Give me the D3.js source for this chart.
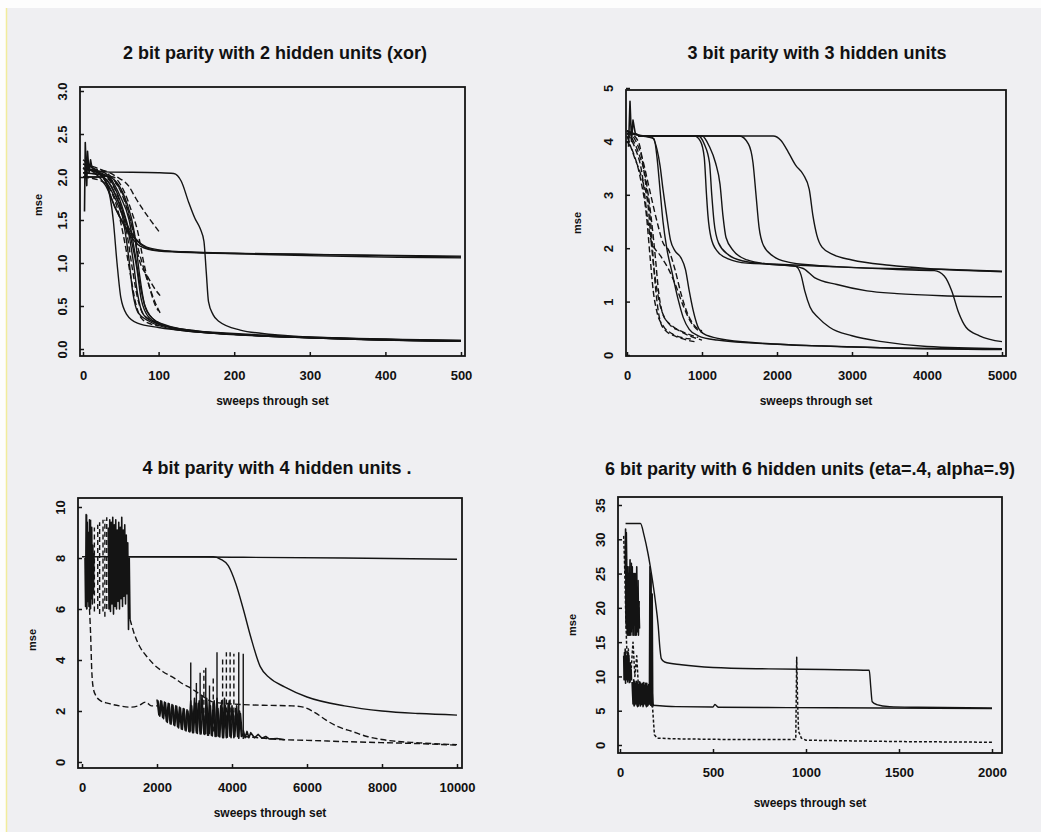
<!DOCTYPE html>
<html>
<head>
<meta charset="utf-8">
<script src="https://cdn.jsdelivr.net/npm/d3@7"></script>
<style>
  html, body { margin: 0; padding: 0; background: #fff; }
  svg { display: block; }
  text { font-family: "Liberation Sans", Arial, sans-serif; font-weight: bold; fill: #111; }
</style>
</head>
<body>
<svg id="chart" width="1041" height="832"></svg>
<script>
// ---------- titles and ticks ----------
const titles = [
    '2 bit parity with 2 hidden units (xor)',
    '3 bit parity with 3 hidden units',
    '4 bit parity with 4 hidden units  .',
    '6 bit parity with 6 hidden units (eta=.4, alpha=.9)'
];
const xLabel = 'sweeps through set';
const yLabel = 'mse';

const xTicks1 = [0, 100, 200, 300, 400, 500];
const yTicks1 = [0, 0.5, 1, 1.5, 2, 2.5, 3];
const xTicks2 = [0, 1000, 2000, 3000, 4000, 5000];
const yTicks2 = [0, 1, 2, 3, 4, 5];
const xTicks3 = [0, 2000, 4000, 6000, 8000, 10000];
const yTicks3 = [0, 2, 4, 6, 8, 10];
const xTicks4 = [0, 500, 1000, 1500, 2000];
const yTicks4 = [0, 5, 10, 15, 20, 25, 30, 35];

// ---------- panel 1: 2 bit parity ----------
const p1Solid = [
    [[0,2.1],[10,2.08],[30,2.06],[100,2.05],[120,2.04],[130,1.95],[140,1.7],[148,1.52],[155,1.4],[160,1.25],[163,0.9],[166,0.55],[172,0.4],[180,0.32],[208,0.22],[250,0.17],[300,0.14],[400,0.11],[500,0.09]],
    [[0,2.1],[15,2.05],[30,1.9],[45,1.6],[60,1.35],[75,1.2],[100,1.14],[150,1.12],[300,1.1],[500,1.08]],
    [[0,2.15],[20,2.06],[40,1.8],[55,1.5],[70,1.28],[90,1.17],[130,1.13],[300,1.1],[500,1.07]],
    [[5,2.0],[25,2.0],[42,1.65],[58,1.4],[72,1.25],[95,1.15],[200,1.11],[500,1.06]],
    [[0,2.1],[20,2.05],[32,1.9],[40,1.5],[45,1.0],[50,0.6],[58,0.4],[72,0.3],[100,0.25],[150,0.2],[250,0.15],[500,0.1]],
    [[0,2.2],[20,2.05],[40,1.85],[52,1.55],[60,1.1],[66,0.65],[73,0.42],[88,0.32],[120,0.23],[200,0.17],[500,0.09]],
    [[0,2.0],[25,2.0],[45,1.75],[58,1.45],[66,1.05],[72,0.65],[80,0.4],[97,0.3],[150,0.21],[300,0.13],[500,0.09]],
    [[0,2.1],[30,2.02],[52,1.65],[63,1.3],[71,0.95],[77,0.58],[87,0.37],[110,0.26],[200,0.17],[500,0.09]],
    [[0,2.05],[35,2.0],[57,1.72],[68,1.35],[75,0.85],[82,0.5],[97,0.32],[140,0.21],[300,0.13],[500,0.09]],
    [[0,2.1],[28,2.05],[49,1.78],[61,1.5],[69,1.1],[76,0.72],[85,0.43],[102,0.3],[160,0.2],[500,0.1]]
];
const p1Dashed = [
    [[0,2.1],[25,2.08],[45,2.0],[60,1.9],[70,1.75],[85,1.55],[102,1.35]],
    [[0,2.1],[30,2.0],[50,1.85],[60,1.6],[68,1.3],[75,1.02],[85,0.85],[95,0.7],[102,0.62]],
    [[0,2.15],[35,2.02],[55,1.72],[65,1.42],[75,1.1],[85,0.8],[95,0.55],[102,0.42]],
    [[0,2.0],[25,1.95],[45,1.65],[55,1.25],[63,0.85],[70,0.52],[78,0.35],[90,0.29],[100,0.27]],
    [[0,2.1],[30,2.0],[48,1.72],[58,1.35],[65,0.95],[72,0.6],[82,0.38],[100,0.31]],
    [[0,2.05],[40,2.0],[55,1.82],[65,1.58],[72,1.38],[80,1.02],[88,0.72],[95,0.52],[100,0.44]]
];
const p1Noise = [
    [[2,1.6],[3,2.4],[5,1.9],[6,2.3],[8,2.05],[10,2.2],[12,2.1]]
];

// ---------- panel 2: 3 bit parity ----------
const p2Solid = [
    [[0,4.2],[150,4.12],[330,4.08],[400,3.85],[440,3.55],[480,3.1],[530,2.6],[580,2.15],[640,1.95],[720,1.82],[780,1.6],[830,1.2],[880,0.85],[940,0.55],[1020,0.4],[1250,0.3],[1800,0.22],[2600,0.17],[3500,0.13],[5000,0.1]],
    [[0,4.15],[200,4.1],[360,4.05],[400,3.7],[440,3.1],[480,2.5],[530,2.0],[600,1.55],[680,1.05],[750,0.7],[830,0.48],[950,0.36],[1200,0.28],[2000,0.2],[3000,0.15],[5000,0.11]],
    [[150,4.1],[900,4.1],[980,4.0],[1030,3.7],[1060,3.0],[1080,2.6],[1120,2.2],[1200,1.95],[1350,1.8],[1600,1.72],[2000,1.7],[2600,1.66],[3500,1.62],[4300,1.6],[5000,1.57]],
    [[150,4.1],[950,4.1],[1030,3.95],[1100,3.6],[1130,3.0],[1160,2.5],[1220,2.1],[1350,1.88],[1550,1.76],[1900,1.7],[2250,1.66],[2320,1.5],[2370,1.2],[2440,0.9],[2550,0.7],[2700,0.52],[3000,0.36],[3400,0.25],[4000,0.16],[5000,0.12]],
    [[150,4.1],[1000,4.1],[1100,3.9],[1180,3.6],[1240,3.2],[1280,2.6],[1320,2.2],[1420,1.95],[1600,1.78],[1900,1.7],[2150,1.68],[2350,1.62],[2500,1.45],[2800,1.32],[3200,1.2],[3600,1.15],[4200,1.11],[5000,1.09]],
    [[150,4.1],[1500,4.1],[1620,3.95],[1680,3.6],[1720,3.0],[1760,2.4],[1820,2.05],[1950,1.85],[2150,1.74],[2500,1.68],[3000,1.64],[3600,1.6],[4100,1.58],[4230,1.48],[4330,1.2],[4420,0.8],[4520,0.52],[4700,0.36],[5000,0.25]],
    [[150,4.1],[1950,4.1],[2050,4.02],[2150,3.8],[2250,3.55],[2350,3.38],[2430,3.1],[2480,2.6],[2530,2.25],[2600,2.02],[2750,1.88],[3000,1.78],[3500,1.68],[4000,1.62],[5000,1.56]]
];
const p2Dashed = [
    [[0,4.2],[50,4.1],[150,3.8],[250,3.3],[320,2.6],[380,1.8],[420,1.2],[470,0.8],[550,0.6],[700,0.45],[850,0.35],[1000,0.28]],
    [[0,4.1],[100,3.7],[200,3.3],[280,2.8],[330,2.0],[380,1.4],[430,1.0],[500,0.7],[600,0.55],[800,0.4],[950,0.33]],
    [[0,4.15],[100,3.9],[200,3.4],[270,2.6],[320,2.15],[450,1.85],[550,1.62],[650,1.3],[750,0.92],[850,0.62],[950,0.46],[1010,0.42]],
    [[0,4.2],[150,4.0],[250,3.2],[320,2.4],[360,1.6],[400,1.0],[450,0.6],[520,0.45],[650,0.35],[800,0.28],[900,0.25]],
    [[0,4.0],[80,3.8],[180,3.3],[260,2.6],[310,1.8],[350,1.2],[400,0.8],[480,0.55],[600,0.4],[750,0.32],[850,0.3]],
    [[0,4.2],[100,4.05],[200,3.7],[300,3.1],[400,2.5],[480,2.1],[560,1.95],[640,1.6],[720,1.15],[800,0.8],[900,0.55],[1000,0.45]]
];
const p2Noise = [
    [[20,3.9],[40,4.75],[60,4.0],[80,4.4],[110,4.15],[150,4.12]]
];

// ---------- panel 3: 4 bit parity ----------
const p3Solid = [
    [[0,8.05],[1300,8.05],[4000,8.03],[7000,8.0],[10000,7.95]],
    [[1250,8.05],[3500,8.05],[3700,7.95],[3900,7.7],[4100,7.0],[4300,6.0],[4500,4.9],[4750,3.75],[5000,3.3],[5400,2.95],[6000,2.55],[7000,2.2],[8000,2.0],[9000,1.9],[10000,1.84]]
];
const p3Dashed = [
    [[1280,5.6],[1400,5.0],[1550,4.5],[1750,4.1],[1900,3.85],[2150,3.55],[2450,3.3],[2700,3.05],[2900,2.9],[3100,2.7],[3300,2.5],[3500,2.35],[3800,2.3],[4300,2.25],[5000,2.22],[5600,2.2],[5900,2.15],[6200,1.95],[6500,1.65],[6800,1.4],[7200,1.2],[7600,1.0],[8000,0.88],[9000,0.75],[10000,0.68]],
    [[200,6.0],[230,5.0],[260,3.6],[300,2.9],[370,2.6],[500,2.4],[700,2.3],[1000,2.2],[1300,2.15],[1500,2.2],[1700,2.35],[1850,2.2],[2000,2.2]],
    [[4300,1.0],[4700,0.95],[5300,0.88],[6000,0.85],[7000,0.8],[8000,0.76],[9000,0.72],[10000,0.66]]
];
const p3Noise = [
    [[80,8],[95,6.1],[110,9.7],[125,6.0],[140,9.4],[155,6.3],[170,9.0],[185,6.1],[200,9.5],[215,6.0],[230,8.8],[245,6.4],[260,9.2],[275,6.2],[290,8.5],[305,6.6],[320,8.2]],
    [[700,9.2],[720,6],[740,9.5],[760,5.9],[780,9.4],[800,6.2],[820,9.6],[840,5.8],[860,9.3],[880,6.1],[900,9.5],[920,6],[940,9.1],[960,6.3],[980,9.4],[1000,6],[1020,9.2],[1040,6.4],[1060,9.6],[1080,6.1],[1100,9.1],[1120,6.5],[1140,9.3],[1160,6.2],[1180,8.9],[1200,6.6],[1220,8.6],[1240,5.2],[1260,8],[1280,5.6]],
    [[2000,2.45],[2050,1.85],[2100,2.4],[2150,1.75],[2200,2.35],[2250,1.6],[2300,2.3],[2350,1.5],[2400,2.25],[2450,1.45],[2500,2.2],[2550,1.38],[2600,2.15],[2650,1.3],[2700,2.1],[2750,1.25],[2800,2.05],[2850,1.2],[2900,2.4],[2950,1.15],[3000,2.5],[3050,1.15],[3100,2.3],[3150,1.1],[3200,2.6],[3250,1.1],[3300,2.2],[3350,1.05],[3400,2.4],[3450,1.05],[3500,2.3],[3550,1.0],[3600,2.5],[3650,1.0],[3700,2.2],[3750,0.95],[3800,2.5],[3850,0.95],[3900,2.3],[3950,1.0],[4000,2.2],[4050,0.95],[4100,2.1],[4150,1.0],[4200,2.0],[4250,1.0],[4300,1.1]],
    [[2025,2.42],[2075,1.8],[2125,2.38],[2175,1.7],[2225,2.32],[2275,1.55],[2325,2.28],[2375,1.48],[2425,2.22],[2475,1.42],[2525,2.18],[2575,1.34],[2625,2.12],[2675,1.28],[2725,2.08],[2775,1.22],[2825,2.0],[2875,1.18],[2925,2.2],[2975,1.15],[3025,2.3],[3075,1.12],[3125,2.4],[3175,1.1],[3225,2.1],[3275,1.08],[3325,2.5],[3375,1.05],[3425,2.2],[3475,1.02],[3525,2.4],[3575,1.0],[3625,2.1],[3675,0.98],[3725,2.4],[3775,0.95],[3825,2.2],[3875,0.97],[3925,2.4],[3975,0.95],[4025,2.0],[4075,1.0],[4125,2.2],[4175,0.95],[4225,1.9],[4275,1.0]],
    [[4300,1.25],[4350,0.95],[4400,1.2],[4450,0.95],[4500,1.15],[4600,0.95],[4700,1.08],[4800,0.93],[4900,1.0],[5000,0.9],[5200,0.92],[5400,0.87]]
];
// vertical spikes: [sweep, low, high]
const p3Spikes = [[125,6.0,9.7],[230,6.0,9.5],[2900,1.2,3.9],[3050,1.2,3.1],[3150,1.2,3.5],[3300,1.1,3.7],[3400,1.1,3.0],[3600,1.0,4.3],[4180,0.9,4.3],[4300,0.9,4.25]];
const p3DashSpikes = [[330,5.9,9.2],[420,6.0,9.3],[470,5.8,9.4],[560,5.9,9.5],[610,5.7,9.5],[660,6.0,9.6],[3250,1.3,3.6],[3500,1.2,3.3],[3750,1.0,4.1],[3850,1.0,4.3],[3950,1.0,4.3],[4050,1.0,4.25]];

// ---------- panel 4: 6 bit parity ----------
const p4Solid = [
    [[30,32.3],[110,32.3],[130,30.5],[150,28],[170,24.8],[190,21],[205,17.5],[215,14],[222,12.6],[240,12.1],[330,11.7],[500,11.3],[800,11.1],[1100,11.0],[1340,10.9],[1348,8.5],[1356,6.3],[1380,5.9],[1450,5.6],[1600,5.5],[2000,5.4]],
    [[175,5.8],[300,5.6],[500,5.55],[510,5.9],[530,5.5],[900,5.45],[1400,5.4],[2000,5.3]]
];
const p4Dotted = [
    [[20,30.5],[25,26],[30,20],[35,15],[40,12],[45,14],[50,9],[60,11],[70,15],[80,10],[90,13],[100,8],[110,9],[120,7],[135,6],[150,7],[165,6],[175,5.5],[180,3.5],[185,1.5],[200,1.0],[300,0.9],[600,0.8],[945,0.8],[950,12.8],[955,6],[960,2],[975,1.0],[1000,0.7],[1500,0.5],[2000,0.4]]
];
const p4Noise = [
    [[28,25],[30,31.5],[32,26],[34,31],[36,27]],
    [[20,13],[22,9.5],[24,13.5],[26,10],[28,14],[30,9],[32,12.5],[34,9.5],[36,13],[38,10],[40,13.5],[42,9.2],[44,12],[46,9.8],[48,13],[50,9.5],[52,11.5],[54,9.2],[56,12],[58,9.6],[60,11],[62,9.4]],
    [[30,30],[33,18],[36,27],[39,16],[42,26],[45,17],[48,25],[51,16],[54,27],[57,18],[60,25],[63,16.5],[66,26],[69,17],[72,24],[75,16],[78,25],[81,18],[84,23],[87,16],[90,26],[93,17],[96,22],[99,16],[102,20],[105,17]],
    [[31,24],[34,17],[37,26],[40,17.5],[43,25],[46,16],[49,26],[52,17],[55,24],[58,16],[61,26.5],[64,17],[67,24],[70,16],[73,25],[76,17.5],[79,23],[82,16],[85,25],[88,17],[91,23],[94,16.5],[97,24],[100,17],[103,21]],
    [[65,9.2],[70,6],[74,9.5],[78,5.8],[82,9],[86,6.2],[90,9.3],[94,5.6],[98,8.8],[102,6],[106,9.2],[110,5.7],[114,8.5],[118,6.1],[122,9],[126,5.8],[130,8.7],[134,6],[138,9],[142,5.6],[146,8.5],[150,5.8],[154,8.8],[158,6],[161,26],[164,6.2],[167,25],[170,5.8],[173,22],[176,6],[180,5.8]],
    [[72,8.8],[76,5.7],[80,9.3],[84,6],[88,8.9],[92,5.8],[96,9.1],[100,5.7],[104,8.7],[108,6.1],[112,9],[116,5.9],[120,8.8],[124,5.6],[128,9.1],[132,6.1],[136,8.6],[140,5.8],[144,9],[148,5.7],[152,8.6],[156,6],[160,8.9],[165,5.8],[172,8],[178,5.6]]
];

// ---------- drawing ----------
const svg = d3.select('#chart');
const ink = '#141414';

svg.append('rect').attr('width', 1041).attr('height', 832).attr('fill', '#fdfdfd');
svg.append('rect').attr('x', 7).attr('y', 8).attr('width', 1034).attr('height', 824).attr('fill', '#efeff2');
svg.append('line').attr('x1', 6.5).attr('x2', 6.5).attr('y1', 8).attr('y2', 832)
    .attr('stroke', '#f1ec9c').attr('stroke-width', 1.5);

const panels = [
    { title: titles[0], frame: [80, 87, 465, 356], xd: [0, 500], xr: [83, 461], yd: [0, 3], yr: [349, 91],
      xt: xTicks1, yt: yTicks1, yfmt: d3.format('.1f'), titleXY: [275, 59], xlabY: 405, ylabXY: [42, 205],
      solid: p1Solid, dashed: p1Dashed, dotted: [], noise: p1Noise, spikes: [], dspikes: [] },
    { title: titles[1], frame: [626, 90, 1006, 356], xd: [0, 5000], xr: [627, 1002], yd: [0, 5], yr: [355, 88],
      xt: xTicks2, yt: yTicks2, yfmt: d3.format('d'), titleXY: [817, 59], xlabY: 405, ylabXY: [581, 223],
      solid: p2Solid, dashed: p2Dashed, dotted: [], noise: p2Noise, spikes: [], dspikes: [] },
    { title: titles[2], frame: [78, 498, 462, 768], xd: [0, 10000], xr: [82, 457], yd: [0, 10], yr: [762, 507],
      xt: xTicks3, yt: yTicks3, yfmt: d3.format('d'), titleXY: [277, 474], xlabY: 817, ylabXY: [36, 640],
      solid: p3Solid, dashed: p3Dashed, dotted: [], noise: p3Noise, spikes: p3Spikes, dspikes: p3DashSpikes },
    { title: titles[3], frame: [618, 497, 1002, 753], xd: [0, 2000], xr: [620, 992], yd: [0, 35], yr: [745, 505],
      xt: xTicks4, yt: yTicks4, yfmt: d3.format('d'), titleXY: [810, 475], xlabY: 807, ylabXY: [576, 625],
      solid: p4Solid, dashed: [], dotted: p4Dotted, noise: p4Noise, spikes: [], dspikes: [] }
];

panels.forEach(function (p) {
    const g = svg.append('g');
    const x = d3.scaleLinear().domain(p.xd).range(p.xr);
    const y = d3.scaleLinear().domain(p.yd).range(p.yr);
    const [fx0, fy0, fx1, fy1] = p.frame;

    const smooth = d3.line().x(d => x(d[0])).y(d => y(d[1])).curve(d3.curveMonotoneX);
    const jagged = d3.line().x(d => x(d[0])).y(d => y(d[1]));

    const clipId = 'clip' + fx0 + fy0;
    svg.append('clipPath').attr('id', clipId)
        .append('rect').attr('x', fx0).attr('y', fy0).attr('width', fx1 - fx0).attr('height', fy1 - fy0);
    const plot = g.append('g').attr('clip-path', `url(#${clipId})`)
        .attr('fill', 'none').attr('stroke', ink).attr('stroke-linejoin', 'round');

    plot.selectAll('.solid').data(p.solid).enter().append('path')
        .attr('d', smooth).attr('stroke-width', 1.4);
    plot.selectAll('.dashed').data(p.dashed).enter().append('path')
        .attr('d', smooth).attr('stroke-width', 1.4).attr('stroke-dasharray', '6,3');
    plot.selectAll('.dotted').data(p.dotted).enter().append('path')
        .attr('d', jagged).attr('stroke-width', 1.5).attr('stroke-dasharray', '3,2');
    plot.selectAll('.noise').data(p.noise).enter().append('path')
        .attr('d', jagged).attr('stroke-width', 1.6);
    plot.selectAll('.spike').data(p.spikes).enter().append('line')
        .attr('x1', d => x(d[0])).attr('x2', d => x(d[0]))
        .attr('y1', d => y(d[1])).attr('y2', d => y(d[2])).attr('stroke-width', 1.4);
    plot.selectAll('.dspike').data(p.dspikes).enter().append('line')
        .attr('x1', d => x(d[0])).attr('x2', d => x(d[0]))
        .attr('y1', d => y(d[1])).attr('y2', d => y(d[2]))
        .attr('stroke-width', 1.4).attr('stroke-dasharray', '5,3');

    // frame
    g.append('rect').attr('x', fx0).attr('y', fy0).attr('width', fx1 - fx0).attr('height', fy1 - fy0)
        .attr('fill', 'none').attr('stroke', ink).attr('stroke-width', 1.8);

    // axes, ticks pointing inward
    const xa = g.append('g').attr('transform', `translate(0,${fy1})`)
        .call(d3.axisBottom(x).tickValues(p.xt).tickSize(-4).tickFormat(d3.format('d')));
    xa.select('.domain').remove();
    xa.selectAll('line').attr('stroke', ink).attr('stroke-width', 1.5);
    xa.selectAll('text').attr('y', 24).attr('dy', null)
        .style('font-size', '13px').style('font-family', '"Liberation Sans", Arial, sans-serif');

    const ya = g.append('g').attr('transform', `translate(${fx0},0)`)
        .call(d3.axisLeft(y).tickValues(p.yt).tickSize(-4).tickFormat(p.yfmt));
    ya.select('.domain').remove();
    ya.selectAll('line').attr('stroke', ink).attr('stroke-width', 1.5);
    ya.selectAll('text').attr('x', null).attr('dy', null).attr('text-anchor', 'middle')
        .attr('transform', 'translate(-13,0) rotate(-90)')
        .style('font-size', '13px').style('font-family', '"Liberation Sans", Arial, sans-serif');

    // titles and labels
    g.append('text').attr('x', p.titleXY[0]).attr('y', p.titleXY[1]).attr('text-anchor', 'middle')
        .style('font-size', '18px').text(p.title);
    g.append('text').attr('x', (fx0 + fx1) / 2).attr('y', p.xlabY).attr('text-anchor', 'middle')
        .style('font-size', '12px').text(xLabel);
    g.append('text').attr('transform', `translate(${p.ylabXY[0]},${p.ylabXY[1]}) rotate(-90)`)
        .attr('text-anchor', 'middle').style('font-size', '11px').text(yLabel);
});
</script>
</body>
</html>
